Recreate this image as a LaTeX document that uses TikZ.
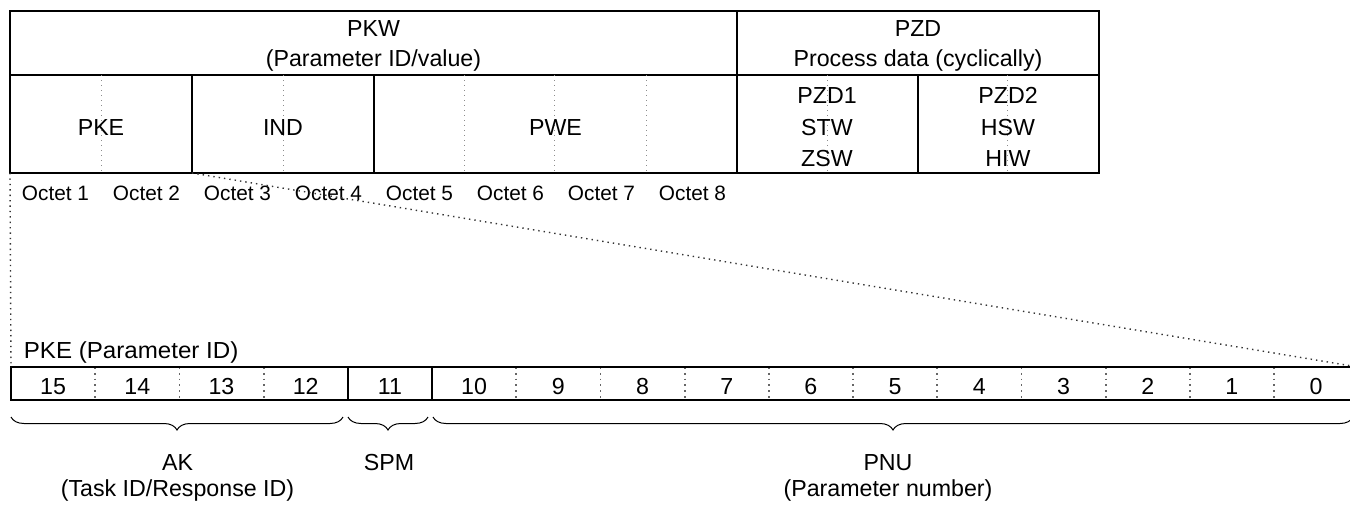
\documentclass[tikz,border=0pt]{standalone}
\usepackage{graphicx}
\usepackage{fontspec}
\setmainfont{Liberation Sans}
\usetikzlibrary{decorations.pathreplacing}
\begin{document}
\begin{tikzpicture}[x=0.5pt,y=-0.5pt,
  frame/.style={draw=black, line width=1pt},
  sepline/.style={draw=black!45, dotted, line width=0.5pt},
  bitsep/.style={draw=black!60, dotted, line width=0.9pt},
  zoomline/.style={draw=black!80, dotted, line width=0.7pt},
  lbl/.style={font=\fontsize{11.6}{14}\selectfont, inner sep=0pt, anchor=base},
  octlbl/.style={font=\fontsize{10.4}{12}\selectfont, inner sep=0pt, anchor=base},
  brc/.style={draw=black, line width=0.5pt, decorate, decoration={brace, mirror, amplitude=6.5pt}}]
\clip (0,0) rectangle (1350,509);
% ---- top table ----
\draw[frame] (10,11) rectangle (1099,173);
\draw[frame] (10,75) -- (1099,75);
\draw[frame] (737,11) -- (737,173);
\foreach \x in {192,374,918} \draw[frame] (\x,75) -- (\x,173);
\foreach \x in {101,283,464,554,646,827,1007} \draw[sepline] (\x,75) -- (\x,173);
\node[lbl] (pkw) at (373.5,36) {PKW};
\node[lbl] (pkwsub) at (373.5,66) {(Parameter ID/value)};
\node[lbl] (pzd) at (918,36) {PZD};
\node[lbl] (pzdsub) at (918,66) {Process data (cyclically)};
\node[lbl] (pke) at (101,135) {PKE};
\node[lbl] (ind) at (283,135) {IND};
\node[lbl] (pwe) at (555.5,135) {PWE};
\node[lbl] (pzda) at (827,103.5) {PZD1};
\node[lbl] (stw) at (827,135) {STW};
\node[lbl] (zsw) at (827,166.5) {ZSW};
\node[lbl] (pzdb) at (1008,103.5) {PZD2};
\node[lbl] (hsw) at (1008,135) {HSW};
\node[lbl] (hiw) at (1008,166.5) {HIW};
\foreach \i in {1,...,8} \node[octlbl] (oct\i) at ({10+91*(\i-0.5)},200.5) {Octet \i};
% ---- zoom lines ----
\coordinate (tblBL) at (10,173);
\coordinate (indBL) at (192,173);
\coordinate (bitTL) at (11,367);
\coordinate (bitTR) at (1358,367);
\draw[zoomline] (tblBL) -- (bitTL);
\draw[zoomline] (indBL) -- (bitTR);
% ---- bit row ----
\node[lbl, anchor=base west] (pketitle) at (23.5,358.3) {\scalebox{1.04}[1]{PKE (Parameter ID)}};
\foreach \k in {1,2,3,6,7,...,15} \draw[bitsep] ({11+84.2*\k},367) -- ({11+84.2*\k},400);
\foreach \k in {4,5} \draw[frame] ({11+84.2*\k},367) -- ({11+84.2*\k},400);
\draw[frame] (bitTL) rectangle (1358.2,400);
\foreach \i in {0,...,15} {
  \pgfmathtruncatemacro{\b}{15-\i}
  \node[lbl] (bit\b) at ({11+84.2*(\i+0.5)},394) {\b};
}
% ---- braces ----
\draw[brc] (11,417) -- (343,417);
\draw[brc] (348,417) -- (428,417);
\draw[brc] (433,417) -- (1353,417);
\node[lbl] (ak) at (177.5,470) {AK};
\node[lbl] (aksub) at (177.5,496) {(Task ID/Response ID)};
\node[lbl] (spm) at (389,470) {SPM};
\node[lbl] (pnu) at (888,470) {PNU};
\node[lbl] (pnusub) at (888,496) {(Parameter number)};
\end{tikzpicture}
\end{document}
